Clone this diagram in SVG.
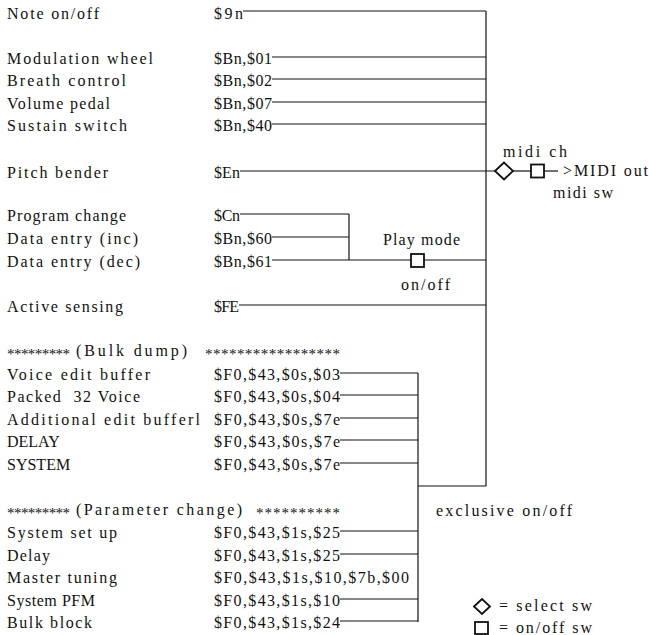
<svg xmlns="http://www.w3.org/2000/svg" width="649" height="635" viewBox="0 0 649 635">
<style>
text{font-family:"Liberation Serif","DejaVu Serif",serif;font-size:16px;fill:#111}
.st{font-size:15px}
.c line{stroke:#111;stroke-width:1.2;fill:none}
.sym{fill:#fff;stroke:#111;stroke-width:1.8}
</style>
<rect width="649" height="635" fill="#fff"/>
<g id="connectors" class="c">
<line x1="486" y1="11" x2="486" y2="486"/>
<line x1="243" y1="11" x2="486" y2="11"/>
<line x1="272" y1="57" x2="486" y2="57"/>
<line x1="272" y1="79" x2="486" y2="79"/>
<line x1="272" y1="102" x2="486" y2="102"/>
<line x1="272" y1="124" x2="486" y2="124"/>
<line x1="240" y1="171" x2="495" y2="171"/>
<line x1="513" y1="171" x2="531" y2="171"/>
<line x1="544" y1="171" x2="558" y2="171"/>
<line x1="240" y1="214" x2="349" y2="214"/>
<line x1="272" y1="237" x2="349" y2="237"/>
<line x1="349" y1="214" x2="349" y2="260"/>
<line x1="272" y1="260" x2="411" y2="260"/>
<line x1="424" y1="260" x2="486" y2="260"/>
<line x1="239" y1="305" x2="486" y2="305"/>
<line x1="418" y1="486" x2="486" y2="486"/>
<line x1="418" y1="373" x2="418" y2="622"/>
<line x1="340" y1="373" x2="418" y2="373"/>
<line x1="340" y1="395" x2="418" y2="395"/>
<line x1="340" y1="418" x2="418" y2="418"/>
<line x1="340" y1="440" x2="418" y2="440"/>
<line x1="340" y1="463" x2="418" y2="463"/>
<line x1="340" y1="531" x2="418" y2="531"/>
<line x1="340" y1="554" x2="418" y2="554"/>
<line x1="340" y1="599" x2="418" y2="599"/>
<line x1="340" y1="621" x2="418" y2="621"/>
</g>
<g id="note"><text x="7" y="19" textLength="92">Note on/off</text><text x="214" y="19" textLength="29">$9n</text></g>
<g id="mod"><text x="7" y="64" textLength="146">Modulation wheel</text><text x="214" y="64" textLength="58">$Bn,$01</text></g>
<g id="breath"><text x="7" y="86" textLength="119">Breath control</text><text x="214" y="86" textLength="58">$Bn,$02</text></g>
<g id="volume"><text x="7" y="109" textLength="103">Volume pedal</text><text x="214" y="109" textLength="58">$Bn,$07</text></g>
<g id="sustain"><text x="7" y="131" textLength="120">Sustain switch</text><text x="214" y="131" textLength="58">$Bn,$40</text></g>
<g id="pitch"><text x="7" y="178" textLength="101">Pitch bender</text><text x="214" y="178" textLength="26">$En</text></g>
<g id="program"><text x="7" y="221" textLength="119">Program change</text><text x="214" y="221" textLength="26">$Cn</text></g>
<g id="datainc"><text x="7" y="244" textLength="131">Data entry (inc)</text><text x="214" y="244" textLength="58">$Bn,$60</text></g>
<g id="datadec"><text x="7" y="267" textLength="133">Data entry (dec)</text><text x="214" y="267" textLength="58">$Bn,$61</text></g>
<g id="active"><text x="7" y="312" textLength="116">Active sensing</text><text x="214" y="312" textLength="25">$FE</text></g>
<g id="bulkhdr"><text class="st" x="7" y="359" textLength="63">*********</text><text x="76" y="356" textLength="111">(Bulk dump)</text><text class="st" x="205" y="359" textLength="135">*****************</text></g>
<g id="voice"><text x="7" y="380" textLength="143">Voice edit buffer</text><text x="214" y="380" textLength="126">$F0,$43,$0s,$03</text></g>
<g id="packed"><text x="7" y="402" textLength="133" xml:space="preserve">Packed  32 Voice</text><text x="214" y="402" textLength="126">$F0,$43,$0s,$04</text></g>
<g id="additional"><text x="7" y="425" textLength="193">Additional edit bufferl</text><text x="214" y="425" textLength="126">$F0,$43,$0s,$7e</text></g>
<g id="delay1"><text x="7" y="447">DELAY</text><text x="214" y="447" textLength="126">$F0,$43,$0s,$7e</text></g>
<g id="system"><text x="7" y="470">SYSTEM</text><text x="214" y="470" textLength="126">$F0,$43,$0s,$7e</text></g>
<g id="paramhdr"><text class="st" x="7" y="518" textLength="63">*********</text><text x="76" y="515" textLength="166">(Parameter change)</text><text class="st" x="256" y="518" textLength="84">**********</text></g>
<g id="setup"><text x="7" y="538" textLength="110">System set up</text><text x="214" y="538" textLength="126">$F0,$43,$1s,$25</text></g>
<g id="delay2"><text x="7" y="561" textLength="43">Delay</text><text x="214" y="561" textLength="126">$F0,$43,$1s,$25</text></g>
<g id="master"><text x="7" y="583" textLength="110">Master tuning</text><text x="214" y="583" textLength="195">$F0,$43,$1s,$10,$7b,$00</text></g>
<g id="pfm"><text x="7" y="606" textLength="88">System PFM</text><text x="214" y="606" textLength="126">$F0,$43,$1s,$10</text></g>
<g id="bulkblock"><text x="7" y="628" textLength="85">Bulk block</text><text x="214" y="628" textLength="126">$F0,$43,$1s,$24</text></g>
<g id="midich"><polygon class="sym" points="495,171 504,162.5 513,171 504,179.5"/><text x="503" y="157" textLength="64">midi ch</text></g>
<g id="midisw"><rect class="sym" x="531" y="164.5" width="13" height="13"/><text x="553" y="198" textLength="60">midi sw</text></g>
<g id="midiout"><text x="563" y="176" textLength="85">&gt;MIDI out</text></g>
<g id="playmode"><rect class="sym" x="411" y="254" width="13" height="13"/><text x="383" y="245" textLength="77">Play mode</text><text x="401" y="290" textLength="49">on/off</text></g>
<g id="exclusive"><text x="436" y="516" textLength="136">exclusive on/off</text></g>
<g id="legend"><polygon class="sym" points="474,606.5 482,599 490,606.5 482,614"/><text x="499" y="611" textLength="93">= select sw</text><rect class="sym" x="475" y="622" width="13" height="12"/><text x="499" y="633" textLength="93">= on/off sw</text></g>
</svg>
